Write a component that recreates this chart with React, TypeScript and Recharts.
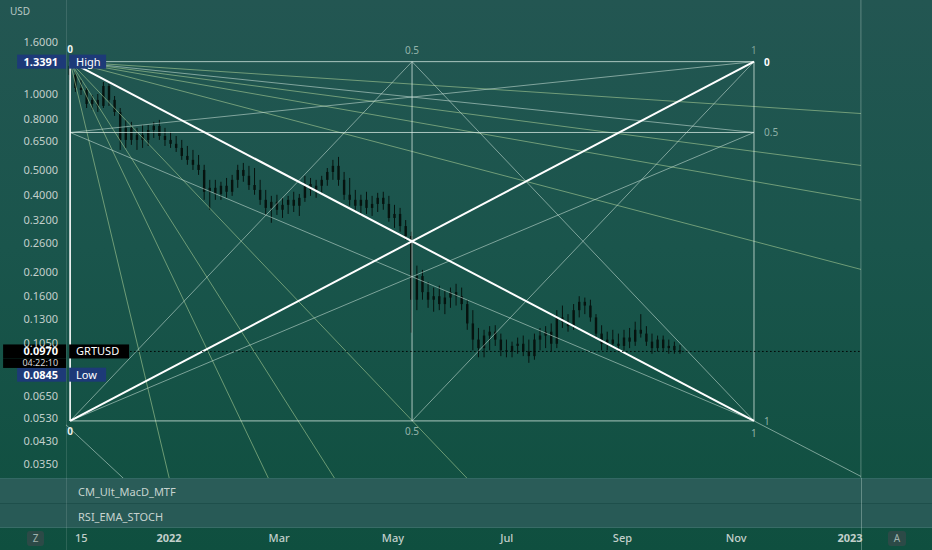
import React from 'react';
import { ComposedChart, Bar, XAxis, YAxis, ReferenceLine, ReferenceDot } from 'recharts';

// ---- candle data (3-day candles, day index relative to 1 Jan 2022) ----
const firstDay = -53;
const stepDays = 3;
const opens = [
  1.288, 1.187, 1.055, 1.036, 0.913, 0.947, 0.897, 1.074, 0.947, 0.849,
  0.659, 0.735, 0.659, 0.690, 0.659, 0.721, 0.748, 0.683, 0.659, 0.636,
  0.613, 0.570, 0.550, 0.526, 0.502, 0.412, 0.427, 0.404, 0.435, 0.412,
  0.459, 0.502, 0.476, 0.438, 0.419, 0.383, 0.356, 0.376, 0.350, 0.366,
  0.383, 0.363, 0.390, 0.442, 0.419, 0.435, 0.459, 0.493, 0.521, 0.459,
  0.401, 0.383, 0.363, 0.383, 0.356, 0.369, 0.390, 0.369, 0.325, 0.337,
  0.302, 0.276, 0.155, 0.192, 0.166, 0.155, 0.160, 0.149, 0.158, 0.166,
  0.160, 0.149, 0.125, 0.108, 0.100, 0.112, 0.116, 0.108, 0.098, 0.097,
  0.102, 0.104, 0.097, 0.093, 0.108, 0.112, 0.116, 0.104, 0.132, 0.127,
  0.122, 0.141, 0.152, 0.147, 0.132, 0.114, 0.104, 0.108, 0.104, 0.102,
  0.110, 0.106, 0.118, 0.114, 0.106, 0.100, 0.108, 0.100, 0.102, 0.098,
];
const highs = [
  1.3391, 1.220, 1.134, 1.055, 0.990, 0.999, 1.114, 1.094, 0.981, 0.880,
  0.790, 0.776, 0.735, 0.755, 0.755, 0.776, 0.790, 0.735, 0.709, 0.683,
  0.659, 0.624, 0.602, 0.575, 0.526, 0.459, 0.459, 0.451, 0.467, 0.480,
  0.526, 0.535, 0.521, 0.511, 0.459, 0.419, 0.397, 0.401, 0.390, 0.397,
  0.412, 0.404, 0.476, 0.467, 0.459, 0.476, 0.511, 0.550, 0.565, 0.493,
  0.467, 0.419, 0.401, 0.412, 0.397, 0.408, 0.412, 0.397, 0.366, 0.356,
  0.319, 0.287, 0.211, 0.203, 0.182, 0.173, 0.176, 0.169, 0.173, 0.179,
  0.173, 0.155, 0.141, 0.120, 0.118, 0.122, 0.123, 0.114, 0.108, 0.106,
  0.110, 0.112, 0.108, 0.114, 0.120, 0.122, 0.125, 0.141, 0.147, 0.136,
  0.149, 0.160, 0.158, 0.155, 0.136, 0.123, 0.116, 0.118, 0.114, 0.118,
  0.120, 0.127, 0.136, 0.122, 0.114, 0.112, 0.112, 0.108, 0.106, 0.103,
];
const lows = [
  1.134, 1.018, 0.990, 0.880, 0.865, 0.849, 0.880, 0.897, 0.819, 0.602,
  0.613, 0.630, 0.602, 0.613, 0.624, 0.671, 0.659, 0.624, 0.613, 0.591,
  0.550, 0.526, 0.502, 0.480, 0.383, 0.350, 0.383, 0.383, 0.390, 0.397,
  0.427, 0.451, 0.419, 0.401, 0.366, 0.334, 0.311, 0.334, 0.325, 0.337,
  0.343, 0.331, 0.376, 0.397, 0.390, 0.404, 0.435, 0.459, 0.435, 0.383,
  0.363, 0.343, 0.331, 0.337, 0.331, 0.343, 0.350, 0.314, 0.297, 0.287,
  0.266, 0.115, 0.141, 0.155, 0.144, 0.139, 0.141, 0.136, 0.144, 0.147,
  0.141, 0.118, 0.098, 0.092, 0.092, 0.098, 0.102, 0.093, 0.092, 0.092,
  0.095, 0.093, 0.0875, 0.090, 0.098, 0.100, 0.097, 0.100, 0.120, 0.116,
  0.118, 0.132, 0.136, 0.127, 0.110, 0.098, 0.098, 0.100, 0.097, 0.098,
  0.100, 0.102, 0.110, 0.102, 0.095, 0.097, 0.097, 0.095, 0.095, 0.095,
];
const closes = [
  1.187, 1.055, 1.036, 0.913, 0.947, 0.897, 1.074, 0.947, 0.849, 0.659,
  0.735, 0.659, 0.690, 0.659, 0.721, 0.748, 0.683, 0.659, 0.636, 0.613,
  0.570, 0.550, 0.526, 0.502, 0.412, 0.427, 0.404, 0.435, 0.412, 0.459,
  0.502, 0.476, 0.438, 0.419, 0.383, 0.356, 0.376, 0.350, 0.366, 0.383,
  0.363, 0.390, 0.442, 0.419, 0.435, 0.459, 0.493, 0.521, 0.459, 0.401,
  0.383, 0.363, 0.383, 0.356, 0.369, 0.390, 0.369, 0.325, 0.337, 0.302,
  0.276, 0.155, 0.192, 0.166, 0.155, 0.160, 0.149, 0.158, 0.166, 0.160,
  0.149, 0.125, 0.108, 0.100, 0.112, 0.116, 0.108, 0.098, 0.097, 0.102,
  0.104, 0.097, 0.093, 0.108, 0.112, 0.116, 0.104, 0.132, 0.127, 0.122,
  0.141, 0.152, 0.147, 0.132, 0.114, 0.104, 0.108, 0.104, 0.102, 0.110,
  0.106, 0.118, 0.114, 0.106, 0.100, 0.108, 0.100, 0.102, 0.098, 0.097,
];

// ---- axes ----
const priceTicks = [1.6, 1.0, 0.8, 0.65, 0.5, 0.4, 0.32, 0.26, 0.2, 0.16, 0.13, 0.105, 0.065, 0.053, 0.043, 0.035];
const priceDomain = [0.0196, 2.3405];
const dayDomain = [-55.2, 408.9];
const timeTickDays = [-47, 0, 59, 120, 181, 243, 304, 365];
const timeTickLabels = ['15', '2022', 'Mar', 'May', 'Jul', 'Sep', 'Nov', '2023'];
const boldTimeLabels = ['2022', '2023'];

// ---- Gann box anchors ----
const boxStart = -53;
const boxMid = 130.25;
const boxEnd = 313.5;
const fanEnd = 370.8;
const boxHigh = 1.3391;
const boxHalf = 0.705;
const boxLow = 0.0517;
const lastPrice = 0.097;
const lowPrice = 0.0845;
const paneBottomPrice = 0.02527;
const flatFanPrices = [0.837, 0.523, 0.382, 0.204];
const steepFanDays = [2.9, 58.8, 96.1, 170.8];

type Seg = [number, number, number, number];
const thickLines: Seg[] = [
  [boxStart, boxHigh, boxEnd, boxLow],
  [boxStart, boxLow, boxEnd, boxHigh],
];
const frameLines: Seg[] = [
  [boxStart, boxHigh, boxEnd, boxHigh],
  [boxStart, boxLow, boxEnd, boxLow],
  [boxEnd, boxHigh, boxEnd, boxLow],
  [boxMid, boxHigh, boxMid, boxLow],
  [boxStart, boxHalf, boxEnd, boxHalf],
];
const innerLines: Seg[] = [
  [boxMid, boxHigh, boxStart, boxLow],
  [boxMid, boxHigh, boxEnd, boxLow],
  [boxMid, boxLow, boxEnd, boxHigh],
  [boxStart, boxHalf, boxEnd, boxHigh],
  [boxStart, boxHalf, boxEnd, boxLow],
  [boxStart, boxHigh, boxEnd, boxHalf],
  [boxStart, boxLow, boxEnd, boxHalf],
  [boxEnd, boxLow, fanEnd, 0.03128],
  [-55.2, 0.0499, -12.0, paneBottomPrice],
];
const fanLines: Seg[] = [
  ...flatFanPrices.map((p) => [boxStart, boxHigh, fanEnd, p] as Seg),
  ...steepFanDays.map((d) => [boxStart, boxHigh, d, paneBottomPrice] as Seg),
];

const data = opens.map((o, i) => ({
  d: firstDay + stepDays * i,
  o,
  h: highs[i],
  l: lows[i],
  c: closes[i],
  range: [lows[i], highs[i]],
}));

const FONT = '"Noto Sans", "DejaVu Sans", sans-serif';
const CANDLE = '#06130f';

const Candle = (props: any) => {
  const { x, y, width, height, payload } = props;
  if (x == null || y == null || !payload) return null;
  const top = Math.min(y, y + height);
  const h = Math.abs(height);
  const cx = x + width / 2;
  const lh = Math.log(payload.h);
  const ll = Math.log(payload.l);
  const span = lh - ll || 1;
  const py = (v: number) => top + ((lh - Math.log(v)) / span) * h;
  const bTop = Math.min(py(payload.o), py(payload.c));
  const bBot = Math.max(py(payload.o), py(payload.c));
  return (
    <g>
      <line x1={cx} x2={cx} y1={top} y2={top + h} stroke={CANDLE} strokeWidth={1} />
      <rect x={cx - 1.2} y={bTop} width={2.4} height={Math.max(1.2, bBot - bTop)} fill={CANDLE} />
    </g>
  );
};

const TimeTick = (props: any) => {
  const { x, y, payload } = props;
  const idx = timeTickDays.indexOf(payload.value);
  const label = idx >= 0 ? timeTickLabels[idx] : '';
  const bold = boldTimeLabels.includes(label);
  return (
    <text x={x} y={y + 6} textAnchor="middle" fill="#c2cfcb" fontSize={11} fontWeight={bold ? 700 : 500} fontFamily={FONT}>
      {label}
    </text>
  );
};

const PriceTick = (props: any) => {
  const { x, y, payload } = props;
  return (
    <text x={x} y={y + 4} textAnchor="end" fill="#c2cfcb" fontSize={11} fontFamily={FONT}>
      {Number(payload.value).toFixed(4)}
    </text>
  );
};

const txt = (s: string, dx: number, dy: number, fill: string, anchor: string, weight = 400, size = 10) => (p: any) => (
  <text x={p.cx + dx} y={p.cy + dy} fill={fill} textAnchor={anchor} fontSize={size} fontWeight={weight} fontFamily={FONT}>
    {s}
  </text>
);

const axisBox = (value: string, tag: string, bg: string, sub?: string, dyCenter = 0, tagW = 37) => (p: any) => {
  const cy = p.cy + dyCenter;
  const lx = p.cx - 53;
  const dark = bg === '#000';
  return (
    <g fontFamily={FONT}>
      <rect x={dark ? lx - 14 : lx} y={cy - 7} width={dark ? 63 : 49} height={14} fill={bg} />
      <text x={p.cx - 12} y={cy + 4} textAnchor="end" fill="#ffffff" fontSize={11} fontWeight={700}>
        {value}
      </text>
      {sub ? (
        <g>
          <rect x={lx - 14} y={cy + 7} width={63} height={9.5} fill={bg} />
          <text x={p.cx - 12} y={cy + 14.5} textAnchor="end" fill="#d8d8d8" fontSize={9}>
            {sub}
          </text>
        </g>
      ) : null}
      <rect x={p.cx - 1} y={cy - 7} width={tagW} height={14} fill={bg} />
      <text x={p.cx + 6} y={cy + 4} fill="#ffffff" fontSize={11}>
        {tag}
      </text>
    </g>
  );
};

const seg = (s: Seg) => [
  { x: s[0], y: s[1] },
  { x: s[2], y: s[3] },
];

export default function App() {
  return (
    <div
      style={{
        position: 'absolute',
        left: 0,
        top: 0,
        width: 932,
        height: 550,
        overflow: 'hidden',
        background: 'linear-gradient(180deg, #235652 0%, #1a554c 45%, #0f4f3f 100%)',
        fontFamily: FONT,
      }}
    >
      <ComposedChart
        width={932}
        height={550}
        data={data}
        margin={{ top: 0, right: 0, bottom: 0, left: 0 }}
        style={{ position: 'absolute', left: 0, top: 0 }}
      >
        <XAxis
          dataKey="d"
          type="number"
          domain={dayDomain}
          allowDataOverflow
          ticks={timeTickDays}
          tick={<TimeTick />}
          axisLine={false}
          tickLine={false}
          height={22}
          interval={0}
        />
        <YAxis
          scale="log"
          type="number"
          domain={priceDomain}
          allowDataOverflow
          ticks={priceTicks}
          tick={<PriceTick />}
          axisLine={false}
          tickLine={false}
          width={66}
          interval={0}
        />
        <Bar dataKey="range" barSize={3} shape={<Candle />} isAnimationActive={false} />

        {fanLines.map((s, i) => (
          <ReferenceLine key={'f' + i} segment={seg(s)} stroke="#a7cc95" strokeOpacity={0.6} strokeWidth={1} ifOverflow="hidden" />
        ))}
        {innerLines.map((s, i) => (
          <ReferenceLine key={'n' + i} segment={seg(s)} stroke="#cfe6dc" strokeOpacity={0.55} strokeWidth={1} ifOverflow="hidden" />
        ))}
        {frameLines.map((s, i) => (
          <ReferenceLine key={'b' + i} segment={seg(s)} stroke="#dcece6" strokeOpacity={0.75} strokeWidth={1} ifOverflow="hidden" />
        ))}
        <ReferenceLine segment={seg([boxStart, boxHigh, boxStart, boxLow])} stroke="#ffffff" strokeWidth={1.6} ifOverflow="hidden" />
        {thickLines.map((s, i) => (
          <ReferenceLine key={'t' + i} segment={seg(s)} stroke="#ffffff" strokeWidth={2} ifOverflow="hidden" />
        ))}
        <ReferenceLine segment={seg([boxStart, lastPrice, fanEnd, lastPrice])} stroke="#000000" strokeDasharray="1.5 2.5" strokeWidth={1} ifOverflow="hidden" />
        <ReferenceLine x={fanEnd} stroke="#cfe6dc" strokeOpacity={0.35} strokeWidth={1} ifOverflow="hidden" />

        {/* level labels */}
        <ReferenceDot x={boxStart} y={boxHigh} r={0} shape={txt('0', 0, -9, '#eef5f2', 'middle', 700)} />
        <ReferenceDot x={boxMid} y={boxHigh} r={0} shape={txt('0.5', 0, -8, '#93b3aa', 'middle')} />
        <ReferenceDot x={boxEnd} y={boxHigh} r={0} shape={txt('1', 0, -8, '#7fa198', 'middle')} />
        <ReferenceDot x={boxEnd} y={boxHigh} r={0} shape={txt('0', 10, 4, '#ffffff', 'start', 700)} />
        <ReferenceDot x={boxEnd} y={boxHalf} r={0} shape={txt('0.5', 10, 4, '#8fb0a7', 'start')} />
        <ReferenceDot x={boxEnd} y={boxLow} r={0} shape={txt('1', 10, 4, '#8fb0a7', 'start')} />
        <ReferenceDot x={boxStart} y={boxLow} r={0} shape={txt('0', 0, 14, '#e6efec', 'middle', 700)} />
        <ReferenceDot x={boxMid} y={boxLow} r={0} shape={txt('0.5', 0, 14, '#93b3aa', 'middle')} />
        <ReferenceDot x={boxEnd} y={boxLow} r={0} shape={txt('1', 0, 16, '#8fb0a7', 'middle')} />

        {/* axis price labels */}
        <ReferenceDot x={boxStart} y={boxHigh} r={0} shape={axisBox('1.3391', 'High', '#1d3a78')} />
        <ReferenceDot x={boxStart} y={lowPrice} r={0} shape={axisBox('0.0845', 'Low', '#1d3a78', undefined, 8)} />
        <ReferenceDot x={boxStart} y={lastPrice} r={0} shape={axisBox('0.0970', 'GRTUSD', '#000', '04:22:10', 0, 60)} />
      </ComposedChart>

      {/* USD caption */}
      <div style={{ position: 'absolute', left: 10, top: 4, fontSize: 10, color: '#b9c8c4' }}>USD</div>

      {/* indicator panes */}
      <div
        style={{
          position: 'absolute',
          left: 0,
          top: 478,
          width: 932,
          height: 25,
          background: '#2a5c58',
          borderTop: '1px solid #336864',
          boxSizing: 'border-box',
        }}
      >
        <span style={{ position: 'absolute', left: 78, top: 5, fontSize: 11, color: '#c6d3cf' }}>CM_Ult_MacD_MTF</span>
      </div>
      <div
        style={{
          position: 'absolute',
          left: 0,
          top: 503,
          width: 932,
          height: 25,
          background: '#285a56',
          borderTop: '1px solid #1e4f4b',
          borderBottom: '1px solid #386c67',
          boxSizing: 'border-box',
        }}
      >
        <span style={{ position: 'absolute', left: 78, top: 5, fontSize: 11, color: '#c6d3cf' }}>RSI_EMA_STOCH</span>
      </div>

      {/* vertical separators */}
      <div style={{ position: 'absolute', left: 66, top: 0, width: 1, height: 550, background: 'rgba(255,255,255,0.12)' }} />
      <div style={{ position: 'absolute', left: 861, top: 478, width: 1, height: 72, background: 'rgba(207,230,220,0.35)' }} />

      {/* corner buttons */}
      <div
        style={{
          position: 'absolute',
          left: 27,
          top: 531,
          width: 17,
          height: 15,
          borderRadius: 3,
          background: '#2c4a47',
          color: '#9fb2ad',
          fontSize: 10,
          textAlign: 'center',
          lineHeight: '15px',
        }}
      >
        Z
      </div>
      <div
        style={{
          position: 'absolute',
          left: 888,
          top: 531,
          width: 18,
          height: 15,
          borderRadius: 3,
          background: '#2c4a47',
          color: '#9fb2ad',
          fontSize: 10,
          textAlign: 'center',
          lineHeight: '15px',
        }}
      >
        A
      </div>
    </div>
  );
}
